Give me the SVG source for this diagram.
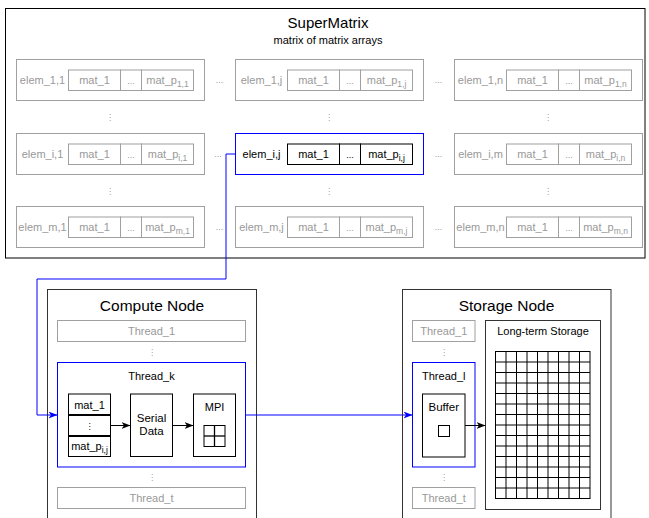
<svg xmlns="http://www.w3.org/2000/svg" width="649" height="518" viewBox="0 0 649 518">
  <style>
    text { font-family: "Liberation Sans", Arial, sans-serif; text-anchor: middle; }
    .frame { fill: #ffffff; stroke: #000000; stroke-width: 1; }
    .node { fill: #ffffff; stroke: #333333; stroke-width: 1; }
    .g { fill: none; stroke: #a0a0a0; stroke-width: 1; }
    .k { fill: none; stroke: #000000; stroke-width: 1; }
    .b { fill: none; stroke: #0000ff; stroke-width: 1; }
    .gt { fill: #999999; font-size: 11px; }
    .kt { fill: #000000; font-size: 11px; }
    .gd { fill: #999999; font-size: 9px; }
    .kd { fill: #000000; font-size: 9px; }
    .vd { font-family: "DejaVu Sans", sans-serif; font-size: 8px; fill: #999999; }
    .sub { font-size: 8.5px; }
    .title { fill: #000000; font-size: 15.5px; }
    .grid { fill: none; stroke: #000000; stroke-width: 1; }
    .wire { fill: none; stroke-width: 1; }
  </style>
  <defs>
    <marker id="arrowK" markerUnits="userSpaceOnUse" markerWidth="10" markerHeight="8" refX="9" refY="4" orient="auto">
      <path d="M0,0.5 L9,4 L0,7.5 L2.5,4 Z" fill="#000000"/>
    </marker>
    <marker id="arrowB" markerUnits="userSpaceOnUse" markerWidth="10" markerHeight="8" refX="9" refY="4" orient="auto">
      <path d="M0,0.5 L9,4 L0,7.5 L2.5,4 Z" fill="#0000ff"/>
    </marker>
  </defs>

  <!-- SuperMatrix container -->
  <g id="supermatrix">
    <rect class="frame" x="5.5" y="8.5" width="639.5" height="249.5"/>
    <text class="title" x="328" y="28" style="font-size:15px">SuperMatrix</text>
    <text class="kt" x="328" y="44">matrix of matrix arrays</text>
  </g>

  <!-- row 1 -->
  <g id="elem-1-1">
    <rect class="g" x="16.5" y="59.5" width="188" height="41"/>
    <rect class="g" x="68.5" y="70" width="52" height="20.5"/>
    <rect class="g" x="120.5" y="70" width="21" height="20.5"/>
    <rect class="g" x="141.5" y="70" width="52" height="20.5"/>
    <text class="gt" x="42.5" y="84">elem_1,1</text>
    <text class="gt" x="94.5" y="84">mat_1</text>
    <text class="gd" x="131" y="84">...</text>
    <text class="gt" x="167.5" y="84">mat_p<tspan class="sub" dy="3">1,1</tspan></text>
  </g>
  <g id="elem-1-j">
    <rect class="g" x="235.5" y="59.5" width="188" height="41"/>
    <rect class="g" x="287.5" y="70" width="52" height="20.5"/>
    <rect class="g" x="339.5" y="70" width="21" height="20.5"/>
    <rect class="g" x="360.5" y="70" width="52" height="20.5"/>
    <text class="gt" x="261.5" y="84">elem_1,j</text>
    <text class="gt" x="313.5" y="84">mat_1</text>
    <text class="gd" x="350" y="84">...</text>
    <text class="gt" x="386.5" y="84">mat_p<tspan class="sub" dy="3">1,j</tspan></text>
  </g>
  <g id="elem-1-n">
    <rect class="g" x="454.5" y="59.5" width="188" height="41"/>
    <rect class="g" x="506.5" y="70" width="52" height="20.5"/>
    <rect class="g" x="558.5" y="70" width="21" height="20.5"/>
    <rect class="g" x="579.5" y="70" width="52" height="20.5"/>
    <text class="gt" x="480.5" y="84">elem_1,n</text>
    <text class="gt" x="532.5" y="84">mat_1</text>
    <text class="gd" x="569" y="84">...</text>
    <text class="gt" x="605.5" y="84">mat_p<tspan class="sub" dy="3">1,n</tspan></text>
  </g>

  <!-- row i -->
  <g id="elem-i-1">
    <rect class="g" x="16.5" y="133.5" width="188" height="41"/>
    <rect class="g" x="68.5" y="144" width="52" height="20.5"/>
    <rect class="g" x="120.5" y="144" width="21" height="20.5"/>
    <rect class="g" x="141.5" y="144" width="52" height="20.5"/>
    <text class="gt" x="42.5" y="158">elem_i,1</text>
    <text class="gt" x="94.5" y="158">mat_1</text>
    <text class="gd" x="131" y="158">...</text>
    <text class="gt" x="167.5" y="158">mat_p<tspan class="sub" dy="3">i,1</tspan></text>
  </g>
  <g id="elem-i-j">
    <rect class="b" x="235.5" y="133.5" width="188" height="41"/>
    <rect class="k" x="287.5" y="144" width="52" height="20.5"/>
    <rect class="k" x="339.5" y="144" width="21" height="20.5"/>
    <rect class="k" x="360.5" y="144" width="52" height="20.5"/>
    <text class="kt" x="261.5" y="158">elem_i,j</text>
    <text class="kt" x="313.5" y="158">mat_1</text>
    <text class="kd" x="350" y="158">...</text>
    <text class="kt" x="386.5" y="158">mat_p<tspan class="sub" dy="3">i,j</tspan></text>
  </g>
  <g id="elem-i-m">
    <rect class="g" x="454.5" y="133.5" width="188" height="41"/>
    <rect class="g" x="506.5" y="144" width="52" height="20.5"/>
    <rect class="g" x="558.5" y="144" width="21" height="20.5"/>
    <rect class="g" x="579.5" y="144" width="52" height="20.5"/>
    <text class="gt" x="480.5" y="158">elem_i,m</text>
    <text class="gt" x="532.5" y="158">mat_1</text>
    <text class="gd" x="569" y="158">...</text>
    <text class="gt" x="605.5" y="158">mat_p<tspan class="sub" dy="3">i,n</tspan></text>
  </g>

  <!-- row m -->
  <g id="elem-m-1">
    <rect class="g" x="16.5" y="206.5" width="188" height="41"/>
    <rect class="g" x="68.5" y="217" width="52" height="20.5"/>
    <rect class="g" x="120.5" y="217" width="21" height="20.5"/>
    <rect class="g" x="141.5" y="217" width="52" height="20.5"/>
    <text class="gt" x="42.5" y="231">elem_m,1</text>
    <text class="gt" x="94.5" y="231">mat_1</text>
    <text class="gd" x="131" y="231">...</text>
    <text class="gt" x="167.5" y="231">mat_p<tspan class="sub" dy="3">m,1</tspan></text>
  </g>
  <g id="elem-m-j">
    <rect class="g" x="235.5" y="206.5" width="188" height="41"/>
    <rect class="g" x="287.5" y="217" width="52" height="20.5"/>
    <rect class="g" x="339.5" y="217" width="21" height="20.5"/>
    <rect class="g" x="360.5" y="217" width="52" height="20.5"/>
    <text class="gt" x="261.5" y="231">elem_m,j</text>
    <text class="gt" x="313.5" y="231">mat_1</text>
    <text class="gd" x="350" y="231">...</text>
    <text class="gt" x="386.5" y="231">mat_p<tspan class="sub" dy="3">m,j</tspan></text>
  </g>
  <g id="elem-m-n">
    <rect class="g" x="454.5" y="206.5" width="188" height="41"/>
    <rect class="g" x="506.5" y="217" width="52" height="20.5"/>
    <rect class="g" x="558.5" y="217" width="21" height="20.5"/>
    <rect class="g" x="579.5" y="217" width="52" height="20.5"/>
    <text class="gt" x="480.5" y="231">elem_m,n</text>
    <text class="gt" x="532.5" y="231">mat_1</text>
    <text class="gd" x="569" y="231">...</text>
    <text class="gt" x="605.5" y="231">mat_p<tspan class="sub" dy="3">m,n</tspan></text>
  </g>

  <!-- ellipses between elements -->
  <g id="matrix-ellipses">
    <text class="gd" x="219.5" y="83">...</text>
    <text class="gd" x="438.5" y="83">...</text>
    <text class="gd" x="218" y="157">...</text>
    <text class="gd" x="438.5" y="157">...</text>
    <text class="gd" x="219.5" y="230">...</text>
    <text class="gd" x="438.5" y="230">...</text>
    <text class="vd" x="110" y="120">⋮</text>
    <text class="vd" x="329" y="120">⋮</text>
    <text class="vd" x="548" y="120">⋮</text>
    <text class="vd" x="110" y="193.5">⋮</text>
    <text class="vd" x="329" y="193.5">⋮</text>
    <text class="vd" x="548" y="193.5">⋮</text>
  </g>

  <!-- Compute Node -->
  <g id="compute-node">
    <rect class="node" x="47.5" y="289.5" width="209" height="240"/>
    <text class="title" x="152" y="311">Compute Node</text>
  </g>
  <g id="compute-thread-1">
    <rect class="g" x="57.5" y="320.5" width="188" height="21"/>
    <text class="gt" x="151.5" y="335">Thread_1</text>
  </g>
  <text class="vd" x="152" y="355">⋮</text>
  <g id="compute-thread-k">
    <rect class="b" x="57.5" y="362.5" width="188" height="104.5"/>
    <text class="kt" x="151.5" y="380">Thread_k</text>
  </g>
  <g id="mat-stack">
    <rect class="k" x="68.5" y="394" width="42" height="62.5"/>
    <line x1="68.5" y1="415" x2="110.5" y2="415" stroke="#000" stroke-width="2"/>
    <line x1="68.5" y1="436" x2="110.5" y2="436" stroke="#000" stroke-width="2"/>
    <text class="kt" x="89.5" y="408.5">mat_1</text>
    <text class="vd" x="89.5" y="428.5" style="fill:#000">⋮</text>
    <text class="kt" x="89.5" y="450">mat_p<tspan class="sub" dy="3">i,j</tspan></text>
  </g>
  <g id="serial-data">
    <rect class="k" x="130.5" y="394" width="42" height="62.5"/>
    <text class="kt" x="151.5" y="421.5" style="font-size:11.5px">Serial</text>
    <text class="kt" x="151.5" y="435" style="font-size:11.5px">Data</text>
  </g>
  <g id="mpi">
    <rect class="k" x="193.5" y="394" width="42" height="62.5"/>
    <text class="kt" x="214.5" y="411">MPI</text>
    <rect class="k" x="204" y="425.5" width="21" height="21" stroke-width="1.3"/>
    <line x1="214.5" y1="425.5" x2="214.5" y2="446.5" stroke="#000" stroke-width="1.3"/>
    <line x1="204" y1="436" x2="225" y2="436" stroke="#000" stroke-width="1.3"/>
  </g>
  <text class="vd" x="152" y="480">⋮</text>
  <g id="compute-thread-t">
    <rect class="g" x="57.5" y="487.5" width="188" height="21"/>
    <text class="gt" x="151.5" y="502">Thread_t</text>
  </g>

  <!-- Storage Node -->
  <g id="storage-node">
    <rect class="node" x="402.5" y="289.5" width="208.5" height="240"/>
    <text class="title" x="506.5" y="311">Storage Node</text>
  </g>
  <g id="storage-thread-1">
    <rect class="g" x="412.5" y="320.5" width="62.5" height="21"/>
    <text class="gt" x="443.75" y="335">Thread_1</text>
  </g>
  <text class="vd" x="444" y="355">⋮</text>
  <g id="storage-thread-l">
    <rect class="b" x="412.5" y="362.5" width="62.5" height="104.5"/>
    <text class="kt" x="443.75" y="380">Thread_l</text>
  </g>
  <g id="buffer">
    <rect class="k" x="422.5" y="394" width="42.5" height="63"/>
    <text class="kt" x="443.75" y="411" style="font-size:11.5px">Buffer</text>
    <rect class="k" x="438.5" y="425.5" width="11" height="11"/>
  </g>
  <text class="vd" x="444" y="480">⋮</text>
  <g id="storage-thread-t">
    <rect class="g" x="412.5" y="487.5" width="62.5" height="21"/>
    <text class="gt" x="443.75" y="502">Thread_t</text>
  </g>
  <g id="long-term-storage">
    <rect class="node" x="485.5" y="320.5" width="115" height="189"/>
    <text class="kt" x="543" y="335">Long-term Storage</text>
    <rect class="grid" x="495.5" y="351.5" width="94.5" height="147"/>
    <path class="grid" d="M506,351.5V498.5 M516.5,351.5V498.5 M527,351.5V498.5 M537.5,351.5V498.5 M548,351.5V498.5 M558.5,351.5V498.5 M569,351.5V498.5 M579.5,351.5V498.5
             M495.5,362H590 M495.5,372.5H590 M495.5,383H590 M495.5,393.5H590 M495.5,404H590 M495.5,414.5H590 M495.5,425H590 M495.5,435.5H590 M495.5,446H590 M495.5,456.5H590 M495.5,467H590 M495.5,477.5H590 M495.5,488H590"/>
  </g>

  <!-- connectors -->
  <g id="connectors">
    <path class="wire" stroke="#0000ff" d="M235.5,154 H226 V279 H37 V415 H57.5" marker-end="url(#arrowB)"/>
    <path class="wire" stroke="#0000ff" d="M245.5,415 H412.5" marker-end="url(#arrowB)"/>
    <path class="wire" stroke="#000000" d="M110.5,425.5 H130.5" marker-end="url(#arrowK)"/>
    <path class="wire" stroke="#000000" d="M172.5,425.5 H193.5" marker-end="url(#arrowK)"/>
    <path class="wire" stroke="#000000" d="M465,425.5 H485.5" marker-end="url(#arrowK)"/>
  </g>
</svg>
